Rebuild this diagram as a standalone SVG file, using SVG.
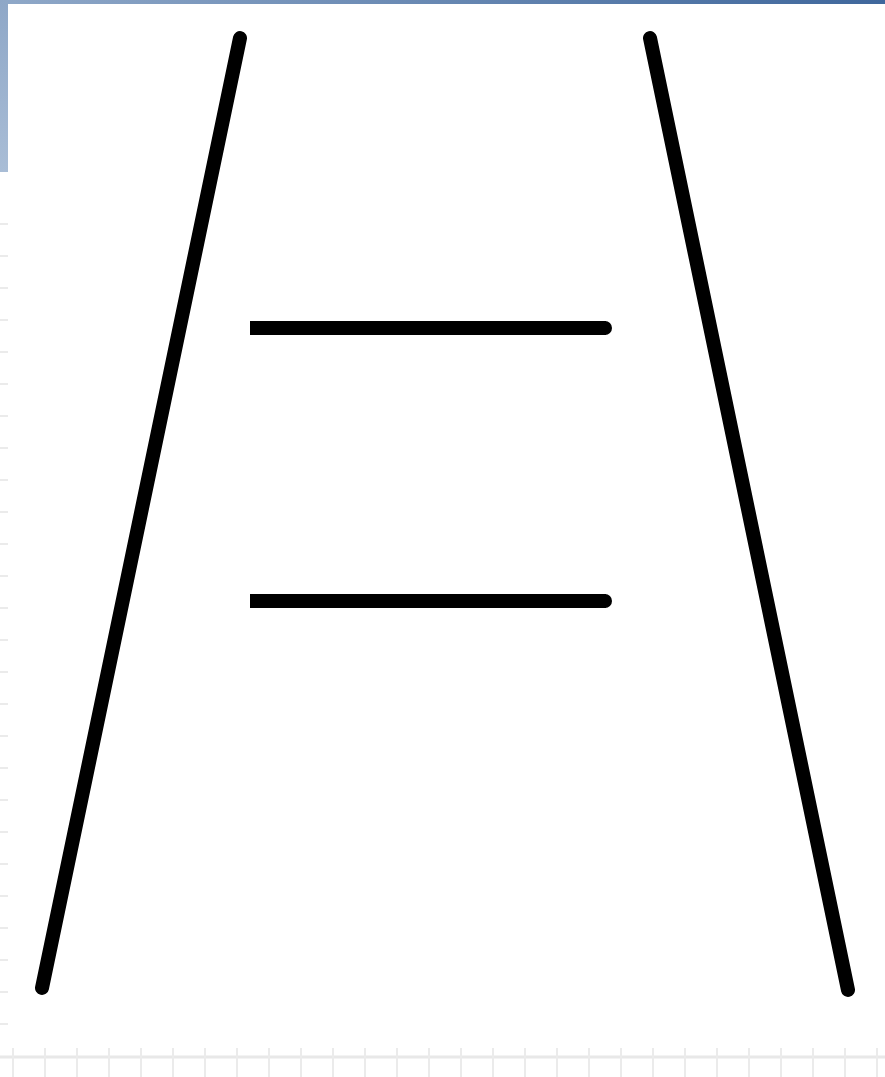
<svg xmlns="http://www.w3.org/2000/svg" width="885" height="1077" viewBox="0 0 885 1077">
<defs>
<linearGradient id="topbar" x1="0" y1="0" x2="1" y2="0">
<stop offset="0" stop-color="#8fa8c8"/>
<stop offset="1" stop-color="#3f679c"/>
</linearGradient>
<linearGradient id="sidebar" x1="0" y1="0" x2="0" y2="1">
<stop offset="0" stop-color="#8ea7c7"/>
<stop offset="1" stop-color="#a9bdd6"/>
</linearGradient>
<style>
.ln{stroke:#000;stroke-width:14;stroke-linecap:round;fill:none}
.bar{stroke:#000;stroke-width:14;stroke-linecap:butt;fill:none}
.tick{stroke:#ebebeb;stroke-width:2;fill:none}
.rule{stroke:#e8e8e8;stroke-width:3;fill:none}
</style>
</defs>
<rect width="885" height="1077" fill="#fff"/>
<rect x="0" y="0" width="885" height="4" fill="url(#topbar)"/>
<rect x="0" y="0" width="8" height="172" fill="url(#sidebar)"/>
<g id="ruler-left">
<path class="tick" d="M0 224H8M0 256H8M0 288H8M0 320H8M0 352H8M0 384H8M0 416H8M0 448H8M0 480H8M0 512H8M0 544H8M0 576H8M0 608H8M0 640H8M0 672H8M0 704H8M0 736H8M0 768H8M0 800H8M0 832H8M0 864H8M0 896H8M0 928H8M0 960H8M0 992H8M0 1024H8"/>
</g>
<g id="ruler-bottom">
<path class="rule" d="M0 1057H885"/>
<path class="tick" d="M13 1048V1077M45 1048V1077M77 1048V1077M109 1048V1077M141 1048V1077M173 1048V1077M205 1048V1077M237 1048V1077M269 1048V1077M301 1048V1077M333 1048V1077M365 1048V1077M397 1048V1077M429 1048V1077M461 1048V1077M493 1048V1077M525 1048V1077M557 1048V1077M589 1048V1077M621 1048V1077M653 1048V1077M685 1048V1077M717 1048V1077M749 1048V1077M781 1048V1077M813 1048V1077M845 1048V1077M877 1048V1077"/>
</g>
<g id="lines">
<line id="left-rail" class="ln" x1="240" y1="38" x2="42" y2="988"/>
<line id="right-rail" class="ln" x1="650" y1="38" x2="848" y2="990"/>
<line id="upper-bar" class="bar" x1="250" y1="328" x2="606" y2="328"/>
<line id="lower-bar" class="bar" x1="250" y1="601" x2="606" y2="601"/>
<circle cx="605" cy="328" r="7"/>
<circle cx="605" cy="601" r="7"/>
</g>
</svg>
